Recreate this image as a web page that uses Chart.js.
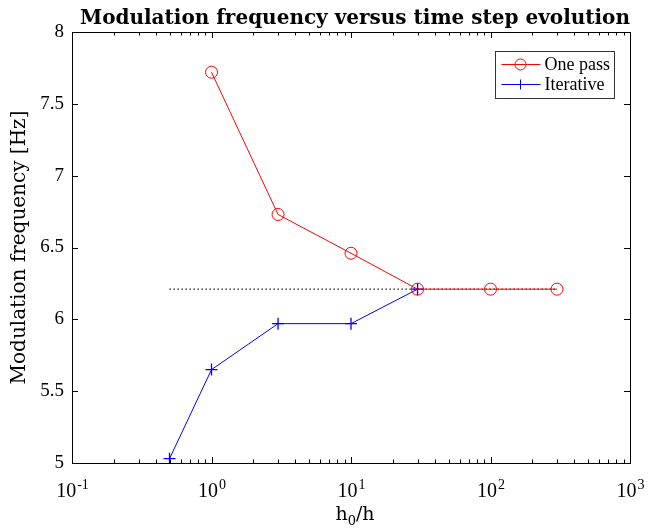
<!DOCTYPE html>
<html>
<head>
<meta charset="utf-8">
<script src="https://cdn.jsdelivr.net/npm/chart.js@4.4.1/dist/chart.umd.min.js"></script>
<style>
  html, body { margin: 0; padding: 0; background: #fff; }
  #wrap { width: 661px; height: 531px; }
</style>
</head>
<body>
<div id="wrap"><canvas id="chart" width="661" height="531"></canvas></div>
<script>
const onePassX = [1, 3, 10, 30, 100, 300];
const onePassY = [7.72, 6.73, 6.46, 6.21, 6.21, 6.21];
const iterX = [0.5, 1, 3, 10, 30];
const iterY = [5.03, 5.65, 5.97, 5.97, 6.21];
const refX = [0.5, 300];
const refY = [6.21, 6.21];
const xTicks = [0.1, 1, 10, 100, 1000];
const xTickExp = ['-1', '0', '1', '2', '3'];
const yTicks = [5, 5.5, 6, 6.5, 7, 7.5, 8];
const titleText = 'Modulation frequency versus time step evolution';

const FONT = "'Liberation Serif', 'DejaVu Serif', serif";
const WIDE = "'DejaVu Serif', 'Liberation Serif', serif";

function toPoints(xs, ys) {
  return xs.map((x, i) => ({ x: x, y: ys[i] }));
}

const frame = {
  id: 'frame',
  afterDatasetsDraw(chart) {
    const ctx = chart.ctx;
    const a = chart.chartArea;
    const xs = chart.scales.x, ys = chart.scales.y;
    const cx = (a.left + a.right) / 2;
    ctx.save();
    ctx.strokeStyle = '#000';
    ctx.lineWidth = 1;
    ctx.beginPath();
    // x ticks (major and minor) on bottom and top
    for (let d = -1; d < 3; d++) {
      for (let m = 1; m < 10; m++) {
        const v = m * Math.pow(10, d);
        const px = Math.round(xs.getPixelForValue(v)) + 0.5;
        const len = m === 1 ? 6 : 3.5;
        ctx.moveTo(px, a.bottom); ctx.lineTo(px, a.bottom - len);
        ctx.moveTo(px, a.top); ctx.lineTo(px, a.top + len);
      }
    }
    // y ticks on left and right
    yTicks.forEach(v => {
      const py = Math.round(ys.getPixelForValue(v)) + 0.5;
      ctx.moveTo(a.left, py); ctx.lineTo(a.left + 6, py);
      ctx.moveTo(a.right, py); ctx.lineTo(a.right - 6, py);
    });
    ctx.stroke();
    ctx.strokeRect(Math.round(a.left) + 0.5, Math.round(a.top) + 0.5,
      Math.round(a.right - a.left), Math.round(a.bottom - a.top));

    ctx.fillStyle = '#000';
    ctx.textBaseline = 'alphabetic';
    ctx.textAlign = 'left';

    // x tick labels with superscript exponents
    xTicks.forEach((v, i) => {
      const px = xs.getPixelForValue(v);
      ctx.font = '20px ' + FONT;
      const wBase = ctx.measureText('10').width;
      ctx.font = '14px ' + FONT;
      const wExp = ctx.measureText(xTickExp[i]).width;
      const x0 = px - (wBase + wExp) / 2;
      ctx.font = '20px ' + FONT;
      ctx.fillText('10', x0, 497);
      ctx.font = '14px ' + FONT;
      ctx.fillText(xTickExp[i], x0 + wBase + 1, 489);
    });

    // x axis title h0/h
    ctx.font = '19px ' + WIDE;
    const wh = ctx.measureText('h').width;
    ctx.font = '13px ' + WIDE;
    const w0 = ctx.measureText('0').width;
    ctx.font = '19px ' + WIDE;
    const wr = ctx.measureText('/h').width;
    let tx = cx + 4 - (wh + w0 + wr) / 2;
    ctx.fillText('h', tx, 520);
    ctx.font = '13px ' + WIDE;
    ctx.fillText('0', tx + wh, 525);
    ctx.font = '19px ' + WIDE;
    ctx.fillText('/h', tx + wh + w0, 520);

    // title
    ctx.font = 'bold 20px ' + WIDE;
    ctx.textAlign = 'center';
    ctx.fillText(titleText, cx + 4, 24);
    ctx.textAlign = 'left';

    // legend
    const lx = 495.5, ly = 51.5, lw = 119, lh = 47;
    ctx.fillStyle = '#fff';
    ctx.fillRect(lx, ly, lw, lh);
    ctx.strokeStyle = '#333';
    ctx.strokeRect(lx, ly, lw, lh);
    const items = chart.data.datasets.slice(0, 2);
    items.forEach((ds, i) => {
      const cy = 64.5 + i * 20;
      ctx.strokeStyle = ds.borderColor;
      ctx.lineWidth = 1;
      ctx.beginPath();
      ctx.moveTo(lx + 6, cy); ctx.lineTo(lx + 45, cy);
      ctx.stroke();
      ctx.beginPath();
      if (ds.pointStyle === 'circle') {
        ctx.arc(lx + 25, cy, 5.5, 0, Math.PI * 2);
      } else {
        ctx.moveTo(lx + 20, cy); ctx.lineTo(lx + 30, cy);
        ctx.moveTo(lx + 25, cy - 5); ctx.lineTo(lx + 25, cy + 5);
      }
      ctx.stroke();
      ctx.fillStyle = '#000';
      ctx.font = '18px ' + FONT;
      ctx.textBaseline = 'middle';
      ctx.fillText(ds.label, lx + 49, cy + 1);
    });
    ctx.restore();
  }
};

new Chart(document.getElementById('chart').getContext('2d'), {
  type: 'line',
  data: {
    datasets: [
      {
        label: 'One pass',
        data: toPoints(onePassX, onePassY),
        borderColor: '#ff0000',
        backgroundColor: 'rgba(0,0,0,0)',
        borderWidth: 1,
        pointStyle: 'circle',
        pointRadius: 6,
        pointBorderWidth: 1,
        pointBorderColor: '#ff0000',
        pointBackgroundColor: 'rgba(0,0,0,0)',
        tension: 0
      },
      {
        label: 'Iterative',
        data: toPoints(iterX, iterY),
        borderColor: '#0000ff',
        backgroundColor: 'rgba(0,0,0,0)',
        borderWidth: 1,
        pointStyle: 'cross',
        pointRadius: 6,
        pointBorderWidth: 1.3,
        pointBorderColor: '#0000ff',
        tension: 0
      },
      {
        label: 'ref',
        data: toPoints(refX, refY),
        borderColor: '#000',
        borderWidth: 1.3,
        borderDash: [1.3, 2.7],
        pointRadius: 0,
        tension: 0
      }
    ]
  },
  options: {
    responsive: false,
    animation: false,
    layout: { padding: { left: 0, right: 31, top: 32, bottom: 0 } },
    plugins: {
      legend: { display: false },
      tooltip: { enabled: false },
      title: { display: false }
    },
    scales: {
      x: {
        type: 'logarithmic',
        min: 0.1,
        max: 1000,
        afterBuildTicks(scale) {
          scale.ticks = xTicks.map(v => ({ value: v, major: true }));
        },
        afterFit(scale) { scale.height = 68; },
        grid: { display: false, drawTicks: false },
        border: { display: false },
        ticks: { display: false }
      },
      y: {
        min: 5,
        max: 8,
        afterBuildTicks(scale) {
          scale.ticks = yTicks.map(v => ({ value: v }));
        },
        afterFit(scale) { scale.width = 72; },
        grid: { display: false, drawTicks: false },
        border: { display: false },
        ticks: {
          color: '#000',
          padding: 8,
          font: { family: FONT, size: 19 },
          callback: (v) => String(v)
        },
        title: {
          display: true,
          text: 'Modulation frequency [Hz]',
          color: '#000',
          font: { family: WIDE, size: 20 },
          padding: { top: 8, bottom: 0 }
        }
      }
    }
  },
  plugins: [frame]
});
</script>
</body>
</html>
